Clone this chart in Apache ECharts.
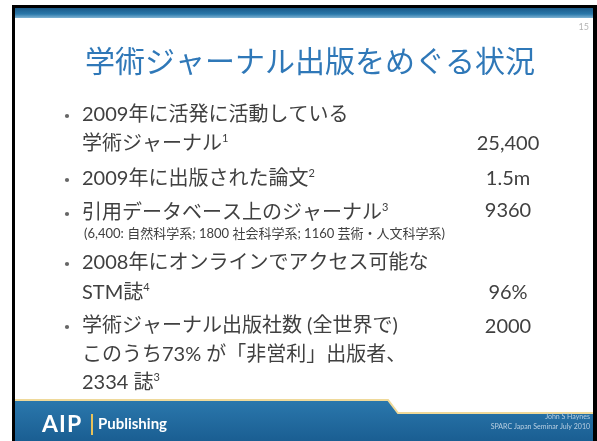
<!DOCTYPE html>
<html><head><meta charset="utf-8">
<script src="https://cdn.jsdelivr.net/npm/echarts@6/dist/echarts.min.js"></script>
<style>html,body{margin:0;padding:0;background:#fff}#c{width:597px;height:441px}</style>
</head><body><div id="c"></div>
<script>
// ---- data ----
const slideTitle = '学術ジャーナル出版をめぐる状況';
const slideNumber = '15';
const bulletLines = [
  ['2009年に活発に活動している', '学術ジャーナル{s|1}'],
  ['2009年に出版された論文{s|2}'],
  ['引用データベース上のジャーナル{s|3}'],
  ['2008年にオンラインでアクセス可能な', 'STM誌{s|4}'],
  ['学術ジャーナル出版社数 (全世界で)', 'このうち73% が「非営利」出版者、', '2334 誌{s|3}']
];
const bulletValues = ['25,400', '1.5m', '9360', '96%', '2000'];
const subNote = '(6,400: 自然科学系; 1800 社会科学系; 1160 芸術・人文科学系)';
const footerLogo = ['A', 'I', 'P'];
const footerBrand = 'Publishing';
const footerCredit = ['John S Haynes', 'SPARC Japan Seminar July 2010'];

// ---- layout ----
const FONT = 'Lato, "Noto Sans CJK JP", sans-serif';
const lineY = [[115, 144], [179], [213], [263, 293], [326, 355, 383]];
const valueY = [144, 179, 211, 293, 327];
const logoX = [42, 59, 67];
const TEXT = '#404040';
const g = [];
g.push({type:'rect', shape:{x:12,y:5,width:585,height:436}, style:{fill:'#000'}});
g.push({type:'rect', shape:{x:15,y:8,width:578,height:433}, style:{fill:'#fff'}});
g.push({type:'rect', shape:{x:15,y:8,width:578,height:10},
  style:{fill:new echarts.graphic.LinearGradient(0,0,0,1,[{offset:0,color:'#1b5a88'},{offset:0.6,color:'#2a78aa'},{offset:1,color:'#7fb3d3'}])}});
g.push({type:'text', x:589, y:27, style:{text:slideNumber, fill:'#b5b5b5', font:'9px '+FONT, align:'right', verticalAlign:'middle'}});
g.push({type:'text', x:310, y:62, style:{text:slideTitle, fill:'#2f78b8', font:'30px '+FONT, align:'center', verticalAlign:'middle'}});

const rich = {s:{fontSize:11, fontFamily:FONT, fill:TEXT, verticalAlign:'top', lineHeight:22}};
bulletLines.forEach((lines, i) => {
  g.push({type:'circle', shape:{cx:67, cy:lineY[i][0]+1, r:2.1}, style:{fill:'#666'}});
  lines.forEach((t, j) => {
    g.push({type:'text', x:82, y:lineY[i][j], style:{text:t, fill:TEXT, font:'20px '+FONT, verticalAlign:'middle', rich:rich}});
  });
  g.push({type:'text', x:508, y:valueY[i], style:{text:bulletValues[i], fill:TEXT, font:'20px '+FONT, align:'center', verticalAlign:'middle'}});
});
g.push({type:'text', x:84, y:234, style:{text:subNote, fill:TEXT, font:'13px '+FONT, verticalAlign:'middle'}});

// footer
const footPts = [[15,400],[388,400],[398,413],[593,413],[593,441],[15,441]];
g.push({type:'polygon', shape:{points:footPts},
  style:{fill:new echarts.graphic.LinearGradient(0,0,0,1,[{offset:0,color:'#2b78ad'},{offset:1,color:'#1a5e92'}])}});
g.push({type:'polyline', shape:{points:footPts.slice(0,4)}, style:{stroke:'#efd99a', lineWidth:2, fill:null}});
footerLogo.forEach((ch,i)=>{
  g.push({type:'text', x:logoX[i], y:425, style:{text:ch, fill:'#fff', font:'bold 23px '+FONT, verticalAlign:'middle'}});
});
g.push({type:'rect', shape:{x:91,y:414,width:2,height:21}, style:{fill:'#e8c25a'}});
g.push({type:'text', x:98, y:424, style:{text:footerBrand, fill:'#fff', font:'bold 15px '+FONT, verticalAlign:'middle'}});
footerCredit.forEach((t,i)=>{
  g.push({type:'text', x:590, y:417+i*10, style:{text:t, fill:'#b9cfe2', font:'7px '+FONT, align:'right', verticalAlign:'middle'}});
});

const chart = echarts.init(document.getElementById('c'), null, {renderer:'canvas'});
chart.setOption({animation:false, backgroundColor:'#fff', graphic:g});
</script></body></html>
